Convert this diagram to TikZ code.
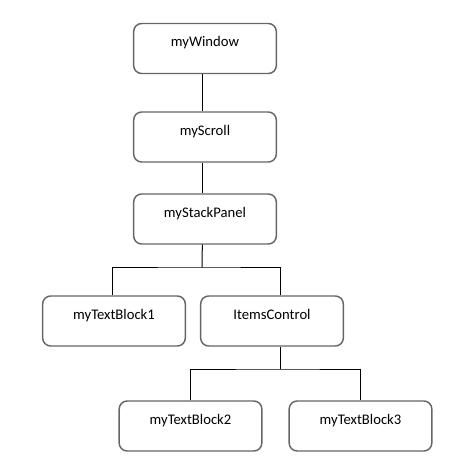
\documentclass[tikz,border=0pt]{standalone}
\usepackage{fontspec}
\setmainfont{Carlito}
\begin{document}
\begin{tikzpicture}[
          x=0.75pt, y=-0.75pt,
          every node/.style={},
          box/.style={draw=black!60, line width=1.1pt, rounded corners=6pt,
                      minimum width=107pt, inner sep=0pt,
                      text height=17.5pt, text depth=20pt,
                      font=\fontsize{11}{13}\selectfont},
          link/.style={line width=0.75pt}]
            \useasboundingbox (0,0) rectangle (459,472);

            \node[box] (win)    at (205,48.5) {myWindow};
            \node[box] (scroll) at (205,137)  {myScroll};
            \node[box] (panel)  at (205,219)  {myStackPanel};

            \draw[link] ([xshift=-2pt]win.south) -- ([xshift=-2pt]scroll.north);
            \draw[link] ([xshift=-2pt]scroll.south) -- ([xshift=-2pt]panel.north);

            \node[box] (tb1)   at (114,321) {myTextBlock1};
            \node[box] (items) at (272,321) {ItemsControl};

            \coordinate (fork1) at (202,267);
            \draw[link] ([xshift=-2pt]panel.south) -- (fork1);
            \draw[link] ([xshift=-1.5pt]tb1.north) |- (fork1) -| ([xshift=6.5pt]items.north);

            \node[box] (tb2) at (190.5,426) {myTextBlock2};
            \node[box] (tb3) at (360.5,426) {myTextBlock3};

            % ItemsControl children
            \coordinate (fork2) at (280,369);
            \draw[link] ([xshift=6pt]items.south) -- (fork2);
            \draw[link] (tb2.north) |- (fork2) -| (tb3.north);
          \end{tikzpicture}
\end{document}
